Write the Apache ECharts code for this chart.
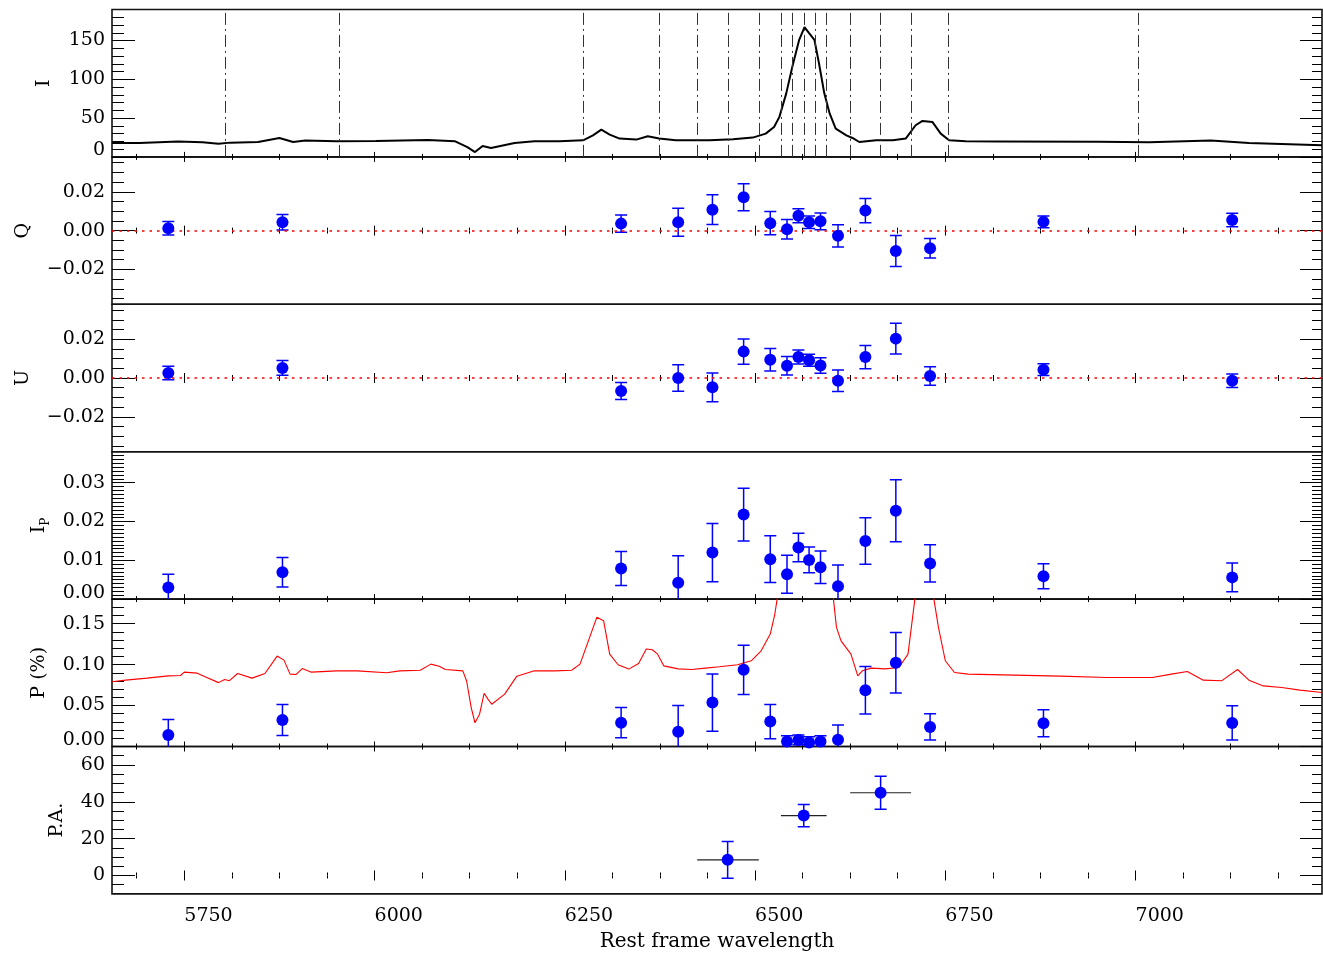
<!DOCTYPE html>
<html><head><meta charset="utf-8">
<script src="https://cdn.jsdelivr.net/npm/echarts@6/dist/echarts.min.js"></script>
<style>html,body{margin:0;padding:0;background:#fff;}#c{width:1323px;height:953px;}</style>
</head><body><div id="c"></div>
<script>
// ---------------- data ----------------
const binCenters = [5729, 5879, 6324, 6399, 6444, 6485, 6520, 6542, 6557, 6571, 6586, 6609, 6645, 6685, 6730, 6879, 7127];
const binEdges = [5804, 5953, 6274, 6374, 6424, 6465, 6505, 6534, 6549, 6564, 6579, 6594, 6625, 6665, 6705, 6754, 7004];

const qValues = [0.0012, 0.0043, 0.0036, 0.0043, 0.0108, 0.0172, 0.0038, 0.0007, 0.0077, 0.0043, 0.0048, -0.0027, 0.0103, -0.0105, -0.0091, 0.0045, 0.0055];
const qErrors = [0.0035, 0.0040, 0.0045, 0.0072, 0.0077, 0.0070, 0.0060, 0.0050, 0.0036, 0.0032, 0.0043, 0.0057, 0.0062, 0.0080, 0.0050, 0.0030, 0.0035];

const uValues = [0.0026, 0.0052, -0.0067, 0.0000, -0.0048, 0.0136, 0.0094, 0.0063, 0.0108, 0.0091, 0.0065, -0.0014, 0.0108, 0.0203, 0.0010, 0.0043, -0.0014];
const uErrors = [0.0035, 0.0038, 0.0044, 0.0068, 0.0074, 0.0065, 0.0058, 0.0048, 0.0036, 0.0031, 0.0040, 0.0055, 0.0060, 0.0079, 0.0048, 0.0030, 0.0035];

const ipValues = [0.0030, 0.0069, 0.0079, 0.0042, 0.0120, 0.0218, 0.0103, 0.0064, 0.0133, 0.0101, 0.0082, 0.0033, 0.0150, 0.0228, 0.0092, 0.0059, 0.0056];
const ipErrors = [0.0034, 0.0038, 0.0044, 0.0070, 0.0075, 0.0068, 0.0060, 0.0049, 0.0037, 0.0033, 0.0042, 0.0055, 0.0060, 0.0080, 0.0048, 0.0032, 0.0037];

const pValues = [0.0141, 0.0324, 0.0291, 0.0181, 0.0536, 0.0936, 0.0304, 0.0060, 0.0080, 0.0050, 0.0060, 0.0083, 0.0688, 0.1022, 0.0239, 0.0284, 0.0288];
const pErrors = [0.019, 0.019, 0.0184, 0.032, 0.035, 0.030, 0.021, 0.007, 0.006, 0.007, 0.007, 0.018, 0.029, 0.037, 0.016, 0.0165, 0.021];

const paWave = [6464, 6564, 6665];
const paLow = [6424, 6534, 6625];
const paHigh = [6505, 6594, 6705];
const paValues = [8.5, 32.5, 44.9];
const paErrors = [10, 6, 9];

const spectrumWave = [5655, 5691, 5742, 5774, 5795, 5810, 5847, 5875, 5893, 5909, 5950, 6002, 6070, 6106, 6122, 6132, 6142, 6153, 6184, 6210, 6243, 6274, 6287, 6298, 6309, 6322, 6344, 6359, 6374, 6396, 6440, 6471, 6497, 6514, 6525, 6532, 6541, 6549, 6558, 6565, 6571, 6578, 6584, 6591, 6598, 6606, 6620, 6628, 6637, 6659, 6681, 6698, 6711, 6720, 6733, 6744, 6755, 6777, 6821, 6952, 7018, 7099, 7149, 7245];
const spectrumFlux = [17.9, 17.9, 19.7, 18.8, 17.1, 18.4, 19.2, 24.4, 19.2, 21.0, 20.1, 20.5, 21.8, 20.1, 12.7, 6.2, 14.0, 11.4, 17.9, 20.1, 20.1, 21.4, 27.8, 35.2, 28.8, 23.6, 22.3, 26.6, 23.6, 21.4, 21.4, 22.7, 24.9, 30.0, 38.6, 51.6, 81.9, 116.3, 150.9, 167.4, 159.6, 150.9, 120.7, 81.9, 56.0, 36.5, 27.8, 24.4, 19.2, 21.4, 21.4, 23.6, 40.8, 46.4, 45.1, 30.0, 21.4, 20.1, 20.0, 19.5, 19.0, 21.0, 18.0, 15.0];

const polWave = [5655, 5673, 5701, 5729, 5745, 5750, 5767, 5778, 5795, 5803, 5809, 5820, 5839, 5856, 5872, 5881, 5889, 5897, 5905, 5917, 5950, 5977, 6016, 6033, 6060, 6074, 6085, 6093, 6116, 6121, 6127, 6132, 6138, 6144, 6149, 6154, 6171, 6187, 6210, 6237, 6259, 6270, 6281, 6292, 6301, 6309, 6320, 6334, 6347, 6357, 6365, 6372, 6380, 6399, 6417, 6435, 6453, 6477, 6495, 6508, 6520, 6526, 6529, 6536, 6550, 6565, 6580, 6595, 6603, 6607, 6613, 6626, 6635, 6641, 6653, 6671, 6689, 6701, 6710, 6720, 6728, 6735, 6741, 6750, 6762, 6780, 6841, 6901, 6962, 7022, 7047, 7068, 7089, 7113, 7134, 7149, 7168, 7192, 7216, 7245];
const polCurve = [0.079, 0.081, 0.0835, 0.0863, 0.0867, 0.0908, 0.0896, 0.085, 0.078, 0.0818, 0.0802, 0.0891, 0.0835, 0.0891, 0.1104, 0.1055, 0.0884, 0.088, 0.0952, 0.0908, 0.0924, 0.0924, 0.09, 0.0924, 0.0932, 0.1006, 0.0981, 0.094, 0.0924, 0.08, 0.0475, 0.029, 0.0394, 0.065, 0.0578, 0.0516, 0.0639, 0.0859, 0.0924, 0.0924, 0.0932, 0.1006, 0.129, 0.1577, 0.1536, 0.1128, 0.0998, 0.0945, 0.1014, 0.119, 0.1181, 0.1128, 0.0985, 0.0948, 0.094, 0.0957, 0.0973, 0.0998, 0.1047, 0.1169, 0.1373, 0.1618, 0.18, 0.24, 0.40, 0.45, 0.35, 0.24, 0.18, 0.1454, 0.129, 0.1128, 0.0863, 0.0924, 0.0957, 0.0948, 0.0965, 0.1128, 0.18, 0.30, 0.33, 0.18, 0.1454, 0.1047, 0.0904, 0.0884, 0.0871, 0.0859, 0.0842, 0.0842, 0.0884, 0.0916, 0.081, 0.0802, 0.094, 0.081, 0.074, 0.072, 0.0688, 0.0659];

// axis ticks / labels
const X_MIN = 5655, X_MAX = 7245;
const xMajorTicks = [5750, 6000, 6250, 6500, 6750, 7000];
const xMinorStep = 62.5;
const iTicks = [0, 50, 100, 150];
const qTicks = [-0.02, 0, 0.02];
const uTicks = [-0.02, 0, 0.02];
const ipTicks = [0, 0.01, 0.02, 0.03];
const pTicks = [0, 0.05, 0.10, 0.15];
const paTicks = [0, 20, 40, 60];

// ---------------- layout ----------------
const FONT = 'DejaVu Serif';
const BLUE = '#0000ff';
const GRID_LEFT = 112, GRID_RIGHT = 1, GRID_TOP0 = 9.5, GRID_H = 147.4;

const panels = [
  {min: 0, max: 190, major: iTicks, minorStep: 10, name: 'I', gap: 58, dec: 0},
  {min: -0.038, max: 0.038, major: qTicks, minorStep: 0.005, name: 'Q', gap: 79, dec: 2},
  {min: -0.038, max: 0.038, major: uTicks, minorStep: 0.005, name: 'U', gap: 79, dec: 2},
  {min: 0, max: 0.038, major: ipTicks, minorStep: 0.001, name: '{a|I}{s|P}', gap: 60, dec: 2},
  {min: 0, max: 0.18, major: pTicks, minorStep: 0.01, name: 'P (%)', gap: 63, dec: 2},
  {min: -10, max: 70, major: paTicks, minorStep: 5, name: 'P.A.', gap: 45, dec: 0}
];

function tickRange(min, max, step) {
  const out = [];
  for (let k = Math.ceil(min / step - 1e-9); k * step <= max + 1e-12; k++) {
    const v = +(k * step).toFixed(6);
    if (v > min && v < max) out.push(v);
  }
  return out;
}
const xMinorTicks = tickRange(X_MIN, X_MAX, xMinorStep);

const grids = [], xAxes = [], yAxes = [];
panels.forEach((p, g) => {
  grids.push({left: GRID_LEFT, right: GRID_RIGHT, top: GRID_TOP0 + g * GRID_H, height: GRID_H,
    show: true, borderColor: '#111', borderWidth: 1.6, backgroundColor: 'transparent', containLabel: false});
  const last = g === panels.length - 1;
  const xb = {type: 'value', gridIndex: g, min: X_MIN, max: X_MAX, axisLine: {show: false}, splitLine: {show: false}};
  const tl = {color: '#000', width: 1};
  xAxes.push(Object.assign({}, xb, {position: 'bottom',
    axisTick: {show: true, inside: true, length: 5, customValues: xMajorTicks, lineStyle: tl},
    axisLabel: last ? {show: true, customValues: xMajorTicks, align: 'left', margin: 13, color: '#000',
      fontFamily: FONT, fontSize: 19, formatter: v => String(v)} : {show: false},
    name: last ? 'Rest frame wavelength' : '', nameLocation: 'middle', nameGap: 38,
    nameTextStyle: {fontFamily: FONT, fontSize: 20, color: '#000'}}));
  xAxes.push(Object.assign({}, xb, {position: 'bottom',
    axisTick: {show: true, inside: true, length: 3, customValues: xMinorTicks, lineStyle: tl}, axisLabel: {show: false}}));
  xAxes.push(Object.assign({}, xb, {position: 'top',
    axisTick: {show: true, inside: true, length: 5, customValues: xMajorTicks, lineStyle: tl}, axisLabel: {show: false}}));
  xAxes.push(Object.assign({}, xb, {position: 'top',
    axisTick: {show: true, inside: true, length: 3, customValues: xMinorTicks, lineStyle: tl}, axisLabel: {show: false}}));

  const yb = {type: 'value', gridIndex: g, min: p.min, max: p.max, axisLine: {show: false}, splitLine: {show: false}};
  const minor = tickRange(p.min, p.max, p.minorStep);
  const fmt = v => {
    let s = Math.abs(v).toFixed(p.dec);
    if (v < -1e-12) s = '\u2212' + s;
    if (Math.abs(v - p.min) < 1e-9) return '{b|' + s + '}';
    return s;
  };
  yAxes.push(Object.assign({}, yb, {position: 'left',
    name: p.name, nameLocation: 'middle', nameGap: p.gap, nameRotate: 90,
    nameTextStyle: {fontFamily: FONT, fontSize: 19, color: '#000',
      rich: {a: {fontFamily: FONT, fontSize: 19, color: '#000', lineHeight: 26, verticalAlign: 'middle'},
             s: {fontFamily: FONT, fontSize: 12, color: '#000', lineHeight: 14, verticalAlign: 'bottom'}}},
    axisTick: {show: true, inside: true, length: 23, customValues: p.major, lineStyle: tl},
    axisLabel: {show: true, customValues: p.major, formatter: fmt, margin: 7, color: '#000',
      fontFamily: FONT, fontSize: 19,
      rich: {b: {fontFamily: FONT, fontSize: 19, color: '#000', padding: [0, 0, 13, 0]}}}}));
  yAxes.push(Object.assign({}, yb, {position: 'left',
    axisTick: {show: true, inside: true, length: 12, customValues: minor, lineStyle: tl}, axisLabel: {show: false}}));
  yAxes.push(Object.assign({}, yb, {position: 'right',
    axisTick: {show: true, inside: true, length: 22, customValues: p.major, lineStyle: tl}, axisLabel: {show: false}}));
  yAxes.push(Object.assign({}, yb, {position: 'right',
    axisTick: {show: true, inside: true, length: 10, customValues: minor, lineStyle: tl}, axisLabel: {show: false}}));
});

// ---------------- series helpers ----------------
function errorBars(g, xs, vals, errs, color) {
  return {
    type: 'custom', xAxisIndex: 4 * g, yAxisIndex: 4 * g, clip: true, silent: true, z: 3,
    data: xs.map((x, i) => [x, vals[i] - errs[i], vals[i] + errs[i]]),
    encode: {x: 0, y: [1, 2]},
    renderItem: (params, api) => {
      const x = api.value(0);
      const top = api.coord([x, api.value(2)]);
      const bot = api.coord([x, api.value(1)]);
      const hw = 6;
      const st = {stroke: color, lineWidth: 1.5};
      return {type: 'group', children: [
        {type: 'line', shape: {x1: top[0], y1: top[1], x2: bot[0], y2: bot[1]}, style: st},
        {type: 'line', shape: {x1: top[0] - hw, y1: top[1], x2: top[0] + hw, y2: top[1]}, style: st},
        {type: 'line', shape: {x1: bot[0] - hw, y1: bot[1], x2: bot[0] + hw, y2: bot[1]}, style: st}
      ]};
    }
  };
}
function points(g, xs, vals, extra) {
  return Object.assign({
    type: 'scatter', xAxisIndex: 4 * g, yAxisIndex: 4 * g, symbol: 'circle', symbolSize: 12, z: 5,
    itemStyle: {color: BLUE, opacity: 1}, data: xs.map((x, i) => [x, vals[i]])
  }, extra || {});
}
const zeroLine = {symbol: 'none', silent: true, label: {show: false},
  lineStyle: {color: '#ff0000', type: [2.5, 5], width: 1.5}, data: [{yAxis: 0}]};

const series = [];
series.push({
  type: 'line', xAxisIndex: 0, yAxisIndex: 0, symbol: 'none', showSymbol: false, silent: true,
  data: spectrumWave.map((w, i) => [w, spectrumFlux[i]]),
  lineStyle: {color: '#000', width: 2}, z: 4,
  markLine: {symbol: 'none', silent: true, label: {show: false},
    lineStyle: {color: '#333', type: [12, 4, 2, 4], width: 1}, data: binEdges.map(v => ({xAxis: v}))}
});
series.push(errorBars(1, binCenters, qValues, qErrors, BLUE));
series.push(points(1, binCenters, qValues, {markLine: zeroLine}));
series.push(errorBars(2, binCenters, uValues, uErrors, BLUE));
series.push(points(2, binCenters, uValues, {markLine: zeroLine}));
series.push(errorBars(3, binCenters, ipValues, ipErrors, BLUE));
series.push(points(3, binCenters, ipValues));
series.push({
  type: 'line', xAxisIndex: 16, yAxisIndex: 16, symbol: 'none', showSymbol: false, silent: true, clip: true,
  data: polWave.map((w, i) => [w, polCurve[i]]), lineStyle: {color: '#ff0000', width: 1.1}, z: 2
});
series.push(errorBars(4, binCenters, pValues, pErrors, BLUE));
series.push(points(4, binCenters, pValues));
series.push({
  type: 'custom', xAxisIndex: 20, yAxisIndex: 20, clip: true, silent: true, z: 2,
  data: paWave.map((w, i) => [paLow[i], paHigh[i], paValues[i]]),
  encode: {x: [0, 1], y: 2},
  renderItem: (params, api) => {
    const a = api.coord([api.value(0), api.value(2)]);
    const b = api.coord([api.value(1), api.value(2)]);
    return {type: 'line', shape: {x1: a[0], y1: a[1], x2: b[0], y2: b[1]}, style: {stroke: '#222', lineWidth: 1.2}};
  }
});
series.push(errorBars(5, paWave, paValues, paErrors, BLUE));
series.push(points(5, paWave, paValues));

const chart = echarts.init(document.getElementById('c'), null, {renderer: 'canvas'});
chart.setOption({
  animation: false,
  backgroundColor: '#fff',
  grid: grids, xAxis: xAxes, yAxis: yAxes, series: series
});
</script></body></html>
